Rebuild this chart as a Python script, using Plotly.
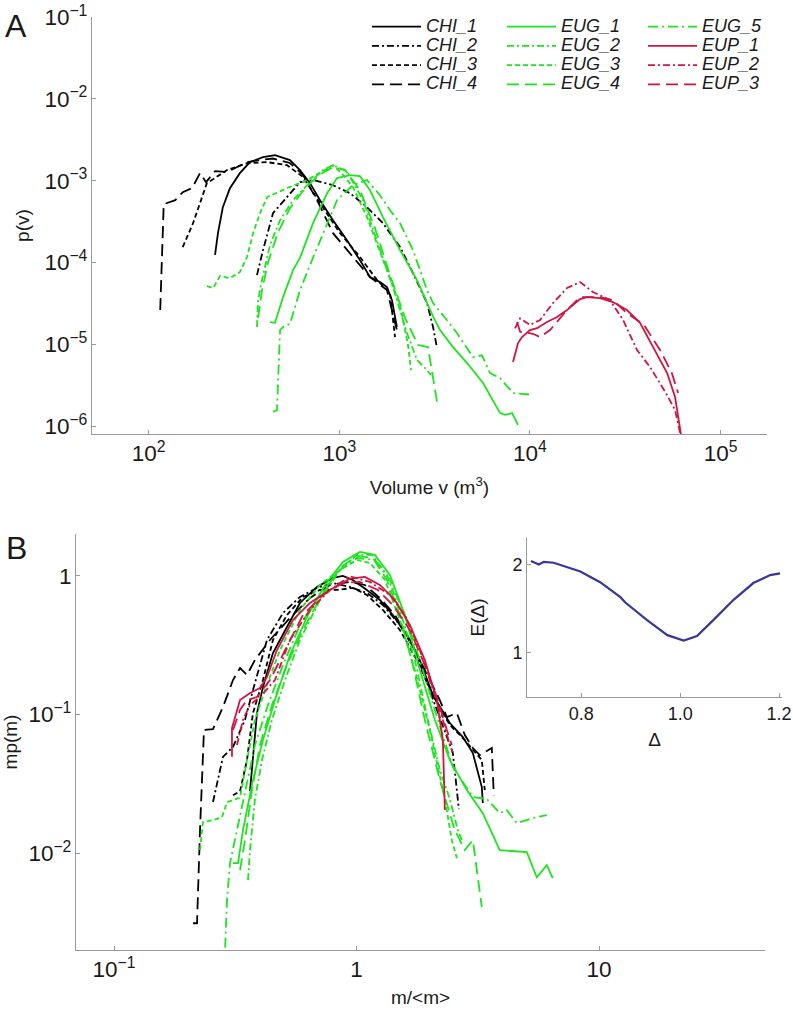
import plotly.graph_objects as go

# ---------------- Panel A data: volume v (m^3) and p(v) ----------------
chi1_v = [223, 231, 245, 267, 301, 340, 398, 460, 551, 622, 702, 792, 927, 1097, 1284, 1449, 1635, 1778, 1888, 2004]
chi1_p = [1.24e-4, 2.29e-4, 4.76e-4, 8.12e-4, 1.24e-3, 1.69e-3, 1.94e-3, 2.06e-3, 1.79e-3, 1.35e-3, 9.35e-4, 5.79e-4,
          3.30e-4, 1.88e-4, 1.07e-4, 6.65e-5, 5.78e-5, 5.02e-5, 3.48e-5, 1.64e-5]

chi2_v = [370, 398, 449, 532, 622, 728, 927, 1138, 1397, 1694, 2082, 2435, 2884, 3101, 3254]
chi2_p = [7.03e-5, 1.42e-4, 4.02e-4, 6.31e-4, 9.62e-4, 1.02e-3, 8.84e-4, 7.06e-4, 4.76e-4, 3.03e-4, 1.55e-4, 7.45e-5,
          3.21e-5, 1.64e-5, 9.04e-6]

chi3_v = [151, 171, 202, 258, 328, 418, 532, 646, 792, 1009, 1284, 1578, 1845, 1959]
chi3_p = [1.55e-4, 3.03e-4, 9.35e-4, 1.35e-3, 1.64e-3, 1.69e-3, 1.55e-3, 1.11e-3, 5.33e-4, 2.29e-4, 1.17e-4, 6.11e-5,
          4.25e-5, 1.23e-5]

chi4_v = [115, 120, 138, 151, 169, 186, 200, 223, 258, 284, 328, 384, 449, 551, 646, 764, 927, 1180, 1449, 1778, 1911, 2004]
chi4_p = [2.63e-5, 5.18e-4, 5.79e-4, 7.26e-4, 8.12e-4, 1.24e-3, 9.62e-4, 1.31e-3, 1.28e-3, 1.43e-3, 1.69e-3, 1.79e-3,
          1.87e-3, 1.65e-3, 1.17e-3, 5.79e-4, 2.29e-4, 1.17e-4, 6.65e-5, 4.61e-5, 2.41e-5, 1.50e-5]

eug1_v = [433, 460, 507, 572, 622, 728, 863, 973, 1138, 1284, 1449, 1694, 2082, 2556, 3101, 3375, 3948, 4677, 5675,
          6966, 7396, 8054, 8657]
eug1_p = [1.88e-5, 1.84e-5, 3.79e-5, 8.10e-5, 1.14e-4, 3.03e-4, 7.06e-4, 1.08e-3, 1.17e-3, 1.14e-3, 7.67e-4, 3.60e-4,
          1.42e-4, 6.11e-5, 2.2e-5, 1.5e-5, 9.29e-6, 5.93e-6, 3.38e-6, 1.45e-6, 1.38e-6, 1.45e-6, 1.04e-6]

eug2_v = [370, 375, 393, 433, 489, 572, 702, 822, 927, 1097, 1331, 1578, 1911, 2264, 2556, 2816, 3030]
eug2_p = [1.63e-5, 3.48e-5, 6.11e-5, 1.64e-4, 3.30e-4, 5.79e-4, 9.62e-4, 1.35e-3, 1.55e-3, 1.31e-3, 5.79e-4, 1.88e-4,
          5.02e-5, 1.38e-5, 6.45e-6, 5.15e-6, 4.23e-6]

eug3_v = [202, 218, 237, 267, 301, 328, 353, 384, 418, 532, 678, 863, 927, 1040, 1180, 1397, 1694, 2082, 2293, 2377]
eug3_p = [5.16e-5, 4.89e-5, 6.84e-5, 6.46e-5, 7.65e-5, 1.17e-4, 2.29e-4, 4.02e-4, 6.31e-4, 8.12e-4, 1.02e-3, 1.43e-3,
          1.55e-3, 1.2e-3, 8.36e-4, 3.60e-4, 1.07e-4, 3.03e-5, 9.84e-6, 4.87e-6]

eug4_v = [375, 393, 423, 477, 551, 661, 792, 927, 1072, 1284, 1538, 1845, 2213, 2589, 2918, 3101, 3289]
eug4_p = [2.10e-5, 4.61e-5, 1.01e-4, 2.35e-4, 4.62e-4, 8.12e-4, 1.20e-3, 1.47e-3, 1.35e-3, 7.67e-4, 2.64e-4, 7.03e-5,
          2.10e-5, 9.84e-6, 9.29e-6, 3.68e-6, 1.72e-6]

eug5_v = [449, 471, 489, 519, 551, 622, 719, 822, 973, 1180, 1397, 1635, 1845, 2082, 2435, 2884, 3101, 3665, 4136,
          5023, 5600, 6173, 6966, 8147, 10000]
eug5_p = [1.50e-6, 1.58e-6, 1.50e-5, 1.73e-5, 1.77e-5, 4.61e-5, 1.07e-4, 2.29e-4, 5.79e-4, 8.84e-4, 1.02e-3, 6.66e-4,
          4.37e-4, 3.03e-4, 1.42e-4, 4.61e-5, 3.21e-5, 1.99e-5, 1.38e-5, 7.01e-6, 7.36e-6, 4.48e-6, 3.89e-6, 2.55e-6,
          2.44e-6]

eup1_v = [8147, 8657, 9082, 10000, 10890, 12280, 13860, 15640, 18300, 19910, 23300, 27220, 32220, 37770, 44230, 52390,
          57660, 59830, 61990]
eup1_p = [6.10e-6, 1.04e-5, 1.23e-5, 1.50e-5, 1.58e-5, 1.88e-5, 2.16e-5, 2.63e-5, 3.58e-5, 3.79e-5, 3.68e-5, 3.30e-5,
          2.63e-5, 1.84e-5, 9.29e-6, 4.48e-6, 2.28e-6, 1.30e-6, 7.8e-7]

eup2_v = [8340, 8869, 10000, 11290, 13210, 15640, 18300, 21400, 26290, 30780, 36420, 42620, 51640, 57660, 61230]
eup2_p = [1.57e-5, 2.08e-5, 1.73e-5, 1.99e-5, 3.21e-5, 4.89e-5, 5.78e-5, 4.37e-5, 3.48e-5, 1.99e-5, 8.55e-6, 5.30e-6,
          2.55e-6, 1.58e-6, 8.3e-7]

eup3_v = [8551, 8869, 10370, 11290, 12740, 15640, 18300, 23300, 27220, 32220, 39630, 48090, 55450, 59830]
eup3_p = [1.88e-5, 1.43e-5, 1.35e-5, 1.23e-5, 1.50e-5, 2.63e-5, 3.79e-5, 3.79e-5, 3.48e-5, 2.41e-5, 1.73e-5, 8.55e-6,
          4.48e-6, 2.55e-6]

# ---------------- Panel B data: m/<m> and m p(m) ----------------
chi1_m = [0.3634, 0.3738, 0.3883, 0.4111, 0.4519, 0.5162, 0.5840, 0.6863, 0.7988, 0.8782, 0.9656, 1.1025, 1.2474,
          1.4111, 1.6114, 1.8228, 2.0623, 2.4231, 2.7416, 3.0151, 3.2832, 3.3143]
chi1_mp = [0.0280, 0.0469, 0.1023, 0.1576, 0.2771, 0.4267, 0.6356, 0.8291, 0.9625, 0.9950, 0.9311, 0.7887, 0.6679,
           0.5207, 0.3736, 0.2467, 0.1380, 0.0867, 0.0687, 0.0527, 0.0300, 0.0230]

chi2_m = [0.2558, 0.2734, 0.2812, 0.3093, 0.3466, 0.3738, 0.4270, 0.4970, 0.5840, 0.6863, 0.7988, 0.9384, 1.1025,
          1.2836, 1.5082, 1.7386, 2.0045, 2.3108, 2.4938, 2.5903, 2.6397]
chi2_mp = [0.0234, 0.0399, 0.0495, 0.0584, 0.0915, 0.1497, 0.3439, 0.5384, 0.7023, 0.8152, 0.8857, 0.8291, 0.7504,
           0.6148, 0.4410, 0.2912, 0.1497, 0.0772, 0.0527, 0.0285, 0.0208]

chi3_m = [0.3093, 0.3306, 0.3532, 0.3738, 0.4111, 0.4519, 0.5162, 0.6008, 0.7062, 0.8294, 0.9656, 1.1025, 1.2836,
          1.5082, 1.7721, 2.0623, 2.4231, 2.7939, 3.0726, 3.2832, 3.3776]
chi3_mp = [0.0262, 0.0280, 0.0469, 0.1023, 0.1770, 0.3439, 0.5207, 0.7023, 0.7887, 0.7887, 0.8152, 0.7260, 0.5659,
           0.4061, 0.2467, 0.1380, 0.0839, 0.0654, 0.0536, 0.0469, 0.0285]

chi4_m = [0.2116, 0.2198, 0.2261, 0.2348, 0.2558, 0.2812, 0.3093, 0.3306, 0.3532, 0.3811, 0.4393, 0.5311, 0.6422,
          0.7762, 0.9384, 1.0819, 1.2474, 1.4380, 1.6584, 1.9115, 2.2033, 2.3555, 2.5903, 2.7939, 3.0151, 3.2211,
          3.6101, 3.6790]
chi4_mp = [0.00313, 0.00313, 0.0147, 0.0772, 0.0785, 0.1131, 0.1770, 0.2160, 0.1923, 0.2467, 0.3439, 0.4956, 0.6906,
           0.8566, 0.9006, 0.8566, 0.6906, 0.5207, 0.3439, 0.2090, 0.1270, 0.0958, 0.1023, 0.0710, 0.0573, 0.0510,
           0.0573, 0.0262]

eug1_m = [0.3093, 0.3243, 0.3400, 0.3738, 0.4111, 0.4606, 0.5311, 0.6302, 0.7403, 0.8782, 1.0318, 1.1895, 1.3716,
          1.5813, 1.8228, 2.1017, 2.4231, 2.8480, 3.3143, 3.8940, 5.0316, 5.5337, 6.0838, 6.4402]
eug1_mp = [0.00848, 0.00848, 0.01467, 0.03365, 0.0654, 0.1270, 0.2682, 0.5207, 0.8566, 1.2555, 1.4823, 1.4103, 1.0117,
           0.5207, 0.2090, 0.0915, 0.0469, 0.0285, 0.01946, 0.01053, 0.01018, 0.00672, 0.00821, 0.00661]

eug2_m = [0.3566, 0.3634, 0.3811, 0.4073, 0.4477, 0.5066, 0.5840, 0.7062, 0.8535, 1.0028, 1.1561, 1.3335, 1.5082,
          1.7386, 1.9669, 2.2033, 2.4231, 2.6149, 2.7154]
eug2_mp = [0.00640, 0.01053, 0.02461, 0.0469, 0.0915, 0.1770, 0.3439, 0.6679, 1.0992, 1.4103, 1.4103, 1.0117, 0.5659,
           0.2467, 0.0915, 0.0399, 0.02461, 0.01467, 0.01243]

eug3_m = [0.2261, 0.2326, 0.2558, 0.2786, 0.2921, 0.3212, 0.3306, 0.3532, 0.3811, 0.4190, 0.4831, 0.5840, 0.7062,
          0.8535, 1.0028, 1.1345, 1.3086, 1.5082, 1.7386, 2.0045, 2.3108, 2.4700, 2.5903]
eug3_mp = [0.01053, 0.01676, 0.01732, 0.01820, 0.02335, 0.02474, 0.02516, 0.0469, 0.0915, 0.1497, 0.2912, 0.5659,
           0.8566, 1.0992, 1.2978, 1.2349, 0.9311, 0.4793, 0.2090, 0.0772, 0.02461, 0.01243, 0.00922]

eug4_m = [0.3306, 0.3466, 0.3703, 0.3996, 0.4477, 0.5162, 0.6008, 0.7194, 0.8535, 1.0028, 1.1672, 1.3335, 1.5082,
          1.7061, 1.9115, 2.2033, 2.5410, 2.7939, 3.0151, 3.1311, 3.2832]
eug4_mp = [0.00755, 0.01243, 0.0285, 0.0602, 0.1169, 0.2271, 0.4061, 0.7260, 1.1363, 1.3870, 1.3417, 0.9311, 0.5207,
           0.2271, 0.0915, 0.03365, 0.01467, 0.01053, 0.01243, 0.00755, 0.00409]

eug5_m = [0.2850, 0.2921, 0.3006, 0.3212, 0.3466, 0.3811, 0.4311, 0.4970, 0.5840, 0.7062, 0.8535, 1.0028, 1.1895,
          1.3716, 1.5813, 1.8228, 2.1017, 2.4938, 3.0151, 3.4429, 3.8940, 4.1612, 4.5750, 5.3250, 6.0838]
eug5_mp = [0.0015, 0.00459, 0.00848, 0.01467, 0.0285, 0.0602, 0.1169, 0.2271, 0.4411, 0.7260, 1.0992, 1.3417, 1.2978,
           0.9311, 0.5207, 0.2467, 0.1076, 0.0418, 0.02537, 0.02461, 0.01946, 0.02045, 0.01648, 0.01791, 0.01882]

eup1_m = [0.3063, 0.3063, 0.3306, 0.3634, 0.3996, 0.4270, 0.4694, 0.5463, 0.6422, 0.7762, 0.9384, 1.0819, 1.2474,
          1.4380, 1.6584, 1.9115, 2.1419, 2.2680, 2.2897, 2.3108]
eup1_mp = [0.0495, 0.0798, 0.1270, 0.1426, 0.1550, 0.1860, 0.2912, 0.4793, 0.6356, 0.7887, 0.9500, 0.9800, 0.8566,
           0.6679, 0.4411, 0.2467, 0.1270, 0.0654, 0.0372, 0.0205]

eup2_m = [0.3212, 0.3400, 0.3634, 0.4073, 0.4606, 0.5311, 0.6422, 0.7762, 0.9384, 1.1345, 1.3716, 1.5813, 1.8228,
          2.0623, 2.2680, 2.4231, 2.4938]
eup2_mp = [0.0602, 0.0915, 0.1169, 0.1380, 0.1770, 0.3439, 0.5659, 0.7887, 0.9900, 0.9006, 0.7260, 0.5207, 0.2912,
           0.1497, 0.0915, 0.0602, 0.0536]

eup3_m = [0.3093, 0.3306, 0.3532, 0.3883, 0.4393, 0.5066, 0.6008, 0.7262, 0.8782, 1.0318, 1.2240, 1.4111, 1.6584,
          1.9115, 2.1627, 2.3555, 2.4700]
eup3_mp = [0.0772, 0.1076, 0.1270, 0.1335, 0.1770, 0.2912, 0.5207, 0.7260, 0.8857, 0.9006, 0.7887, 0.6148, 0.4061,
           0.2271, 0.1270, 0.0772, 0.0602]

# ---------------- Inset data ----------------
delta = [0.698, 0.714, 0.724, 0.744, 0.798, 0.838, 0.879, 0.889, 0.933, 0.974, 1.007, 1.034, 1.067, 1.108, 1.148,
         1.182, 1.202]
energy = [2.04, 2.00, 2.03, 2.02, 1.92, 1.80, 1.63, 1.57, 1.37, 1.20, 1.14, 1.19, 1.37, 1.60, 1.79, 1.88, 1.90]

series_names = ["CHI_1", "CHI_2", "CHI_3", "CHI_4", "EUG_1", "EUG_2", "EUG_3", "EUG_4", "EUG_5", "EUP_1", "EUP_2", "EUP_3"]

# ---------------- Styling ----------------
W, H = 793, 1031
FONT = "Liberation Sans, Arial, Helvetica, sans-serif"
BLACK = "#000000"
GREEN = "#1ee41e"
RED = "#d0153f"
BLUE = "#37379a"
AXC = "#9a9a9a"
TXT = "#1a1a1a"

DASH = {
    "solid": "solid",
    "dashdot": "7px,3px,2px,3px",
    "dash": "5px,3px",
    "longdash": "12px,6px",
    "longdashdot": "10px,4px,2px,4px",
}

panelA = [chi1_v, chi1_p, chi2_v, chi2_p, chi3_v, chi3_p, chi4_v, chi4_p,
          eug1_v, eug1_p, eug2_v, eug2_p, eug3_v, eug3_p, eug4_v, eug4_p, eug5_v, eug5_p,
          eup1_v, eup1_p, eup2_v, eup2_p, eup3_v, eup3_p]
panelB = [chi1_m, chi1_mp, chi2_m, chi2_mp, chi3_m, chi3_mp, chi4_m, chi4_mp,
          eug1_m, eug1_mp, eug2_m, eug2_mp, eug3_m, eug3_mp, eug4_m, eug4_mp, eug5_m, eug5_mp,
          eup1_m, eup1_mp, eup2_m, eup2_mp, eup3_m, eup3_mp]

colors = [BLACK] * 4 + [GREEN] * 5 + [RED] * 3
dashes = ["solid", "dashdot", "dash", "longdash",
          "solid", "dashdot", "dash", "longdash", "longdashdot",
          "solid", "dashdot", "longdash"]
legends = ["legend"] * 4 + ["legend2"] * 4 + ["legend3"] * 4

fig = go.Figure()
LW = 1.8
for i, name in enumerate(series_names):
    fig.add_trace(go.Scatter(
        x=panelA[2 * i], y=panelA[2 * i + 1], mode="lines",
        name='<span style="font-size:18px">' + name + '</span>',
        line=dict(color=colors[i], width=LW, dash=DASH[dashes[i]]),
        legend=legends[i], xaxis="x", yaxis="y", showlegend=True))

for i, name in enumerate(series_names):
    fig.add_trace(go.Scatter(
        x=panelB[2 * i], y=panelB[2 * i + 1], mode="lines", name=name,
        line=dict(color=colors[i], width=LW, dash=DASH[dashes[i]]),
        xaxis="x2", yaxis="y2", showlegend=False))

fig.add_trace(go.Scatter(x=delta, y=energy, mode="lines", line=dict(color=BLUE, width=2.2),
                         xaxis="x3", yaxis="y3", showlegend=False))

tickfont = dict(family=FONT, size=18, color=TXT)
titlefont = dict(family=FONT, size=19, color=TXT)


def ax_common(**kw):
    d = dict(showline=True, linecolor=AXC, linewidth=1, ticks="inside", ticklen=4, tickcolor=AXC,
             showgrid=False, zeroline=False, tickfont=tickfont, automargin=False, mirror=False,
             ticklabeloverflow="allow")
    d.update(kw)
    return d


def leg(xpx, ypx):
    return dict(x=xpx / W, y=1 - ypx / H, xanchor="left", yanchor="top", bgcolor="rgba(0,0,0,0)",
                borderwidth=0, font=dict(family=FONT, size=12.5, color=TXT, style="italic"),
                itemwidth=49, tracegroupgap=0, traceorder="normal", itemclick=False)


fig.update_layout(
    width=W, height=H, margin=dict(l=0, r=0, t=0, b=0),
    paper_bgcolor="white", plot_bgcolor="white",
    font=dict(family=FONT, color=TXT),
    xaxis=ax_common(type="log", range=[1.703, 5.243], domain=[92 / W, 767 / W], anchor="y", dtick=1,
                    exponentformat="power",
                    title=dict(text="Volume v (m<sup>3</sup>)", font=titlefont, standoff=15)),
    yaxis=ax_common(type="log", range=[-6.094, -0.999], domain=[1 - 434 / H, 1 - 17 / H], anchor="x", dtick=1,
                    exponentformat="power",
                    title=dict(text="p(v)", font=titlefont, standoff=9)),
    xaxis2=ax_common(type="log", range=[-1.157, 1.684], domain=[76 / W, 765 / W], anchor="y2", dtick=1,
                     exponentformat="power",
                     title=dict(text="m/&lt;m&gt;", font=titlefont, standoff=9)),
    yaxis2=ax_common(type="log", range=[-2.697, 0.30], domain=[1 - 950 / H, 1 - 534 / H], anchor="x2", dtick=1,
                     exponentformat="power",
                     title=dict(text="mp(m)", font=titlefont, standoff=26)),
    xaxis3=ax_common(range=[0.690, 1.206], domain=[527 / W, 782 / W], anchor="y3",
                     tickvals=[0.8, 1.0, 1.2], ticktext=["0.8", "1.0", "1.2"],
                     title=dict(text="Δ", font=titlefont, standoff=10)),
    yaxis3=ax_common(range=[0.5, 2.3], domain=[1 - 697 / H, 1 - 538 / H], anchor="x3",
                     tickvals=[1, 2], ticktext=["1", "2"],
                     title=dict(text="E(Δ)", font=titlefont, standoff=22)),
    legend=leg(367, 12),
    legend2=leg(502, 12),
    legend3=leg(643, 12),
    annotations=[
        dict(text="A", x=16 / W, y=1 - 26 / H, xref="paper", yref="paper", showarrow=False,
             font=dict(family=FONT, size=32, color=TXT), xanchor="center", yanchor="middle"),
        dict(text="B", x=16 / W, y=1 - 548 / H, xref="paper", yref="paper", showarrow=False,
             font=dict(family=FONT, size=32, color=TXT), xanchor="center", yanchor="middle"),
    ],
)

fig.write_html("out.html", config={"displayModeBar": False},
               post_script="document.body.style.margin='0px';")
